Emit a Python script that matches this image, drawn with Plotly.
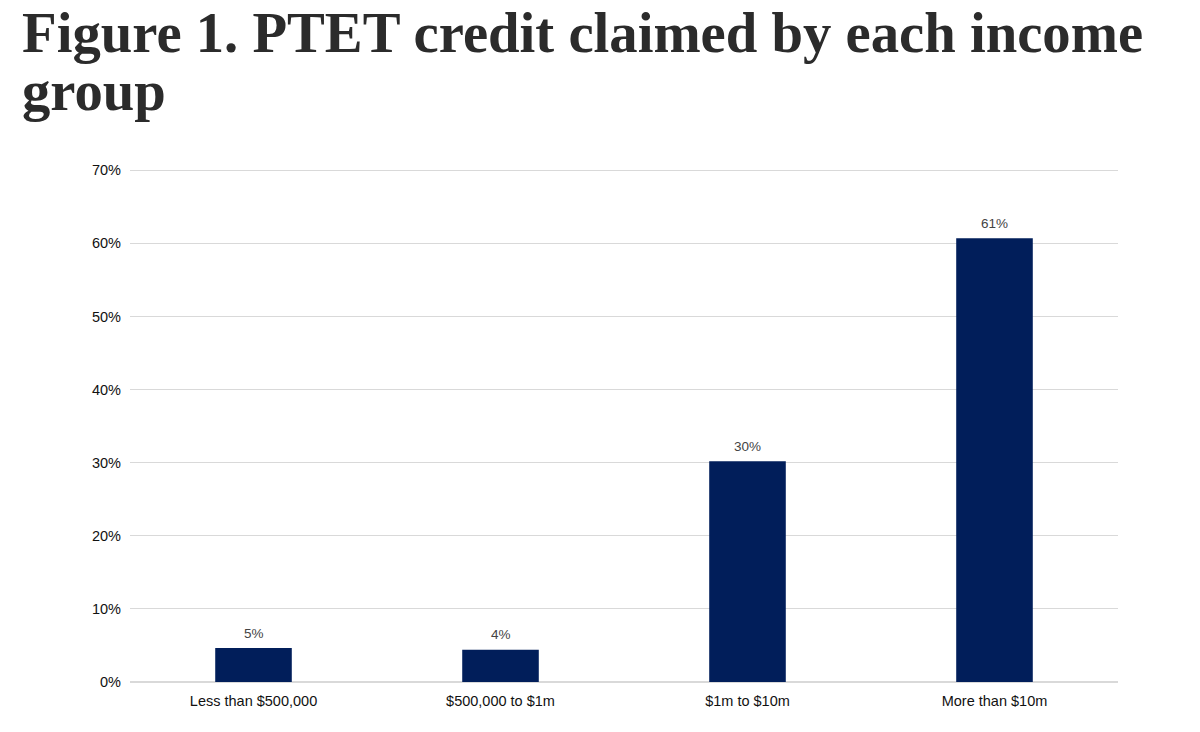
import plotly.graph_objects as go

categories = ["Less than $500,000", "$500,000 to $1m", "$1m to $10m", "More than $10m"]
values = [4.65, 4.4, 30.2, 60.7]
labels = ["5%", "4%", "30%", "61%"]
tick_vals = [0, 10, 20, 30, 40, 50, 60, 70]
tick_text = ["0%", "10%", "20%", "30%", "40%", "50%", "60%", "70%"]
title_lines = ["Figure 1. PTET credit claimed by each income", "group"]

L, R, T, B = 130, 82, 163, 50
PW, PH = 1200 - L - R, 732 - T - B

fig = go.Figure(go.Bar(
    x=categories, y=values,
    marker=dict(color="#011E5A", line=dict(width=0)),
    cliponaxis=False,
))

for c, v, t in zip(categories, values, labels):
    fig.add_annotation(
        x=c, y=v, text=t, showarrow=False, yanchor="middle", yshift=15,
        font=dict(family="Liberation Sans, Arial", size=13.5, color="#444444"),
    )

fig.update_layout(
    width=1200, height=732,
    margin=dict(l=L, r=R, t=T, b=B),
    paper_bgcolor="white", plot_bgcolor="white",
    bargap=0.69,
    showlegend=False,
    font=dict(family="Liberation Sans, Arial", size=14.5, color="#111111"),
    xaxis=dict(showgrid=False, showline=False, ticks="", ticklabelstandoff=8,
               tickfont=dict(size=14.5, color="#111111")),
    yaxis=dict(range=[0, 71], tickvals=tick_vals, ticktext=tick_text, showgrid=True,
               gridcolor="#d9d9d9", gridwidth=1, zeroline=True, zerolinecolor="#d9d9d9",
               ticks="", ticklabelstandoff=8, tickfont=dict(size=14.5, color="#111111")),
)

for line, py in zip(title_lines, [33, 90]):
    fig.add_annotation(
        text=line, xref="paper", yref="paper",
        x=(20 - L) / PW, xanchor="left",
        y=(732 - B - py) / PH, yanchor="middle",
        showarrow=False,
        font=dict(family="Liberation Serif, Times New Roman", size=56.7, color="#2b2b2b",
                  weight="bold"),
    )

fig.write_html("out.html", config={"displayModeBar": False},
               post_script="document.body.style.margin='0px';")
